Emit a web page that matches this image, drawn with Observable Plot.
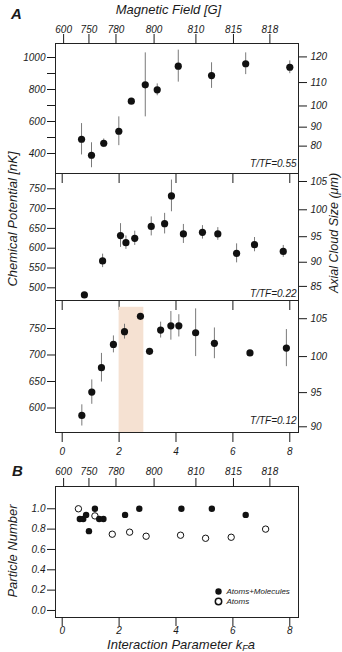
<!DOCTYPE html>
<html>
<head>
<meta charset="utf-8">
<script src="https://cdn.jsdelivr.net/npm/d3@7"></script>
<script src="https://cdn.jsdelivr.net/npm/@observablehq/plot@0.6"></script>
<style>
  body { margin: 0; background: #fff; }
  #chart { position: relative; width: 342px; height: 652px; overflow: hidden; background: #fff;
           font-family: "Liberation Sans", Arial, sans-serif; font-style: italic; color: #1a1a1a; }
  #xtitle { position: absolute; left: 181px; top: 639px; transform: translateX(-50%);
            font-size: 13px; line-height: 12px; white-space: nowrap; }
  #xtitle sub { font-size: 9px; vertical-align: -2px; line-height: 0; }
</style>
</head>
<body>
<div id="chart"><span id="xtitle">Interaction Parameter k<sub>F</sub>a</span></div>
<script>
// ---------- data ----------
// Panel A, T/TF = 0.55
const kfa55 = [0.68, 1.03, 1.46, 1.99, 2.43, 2.92, 3.34, 4.08, 5.25, 6.45, 8.00];
const mu55  = [489, 389, 464, 539, 727, 829, 798, 946, 887, 961, 939];
const err55 = [98, 78, 27, 90, 0, 200, 37, 100, 80, 68, 40];
// Panel A, T/TF = 0.22
const kfa22 = [0.78, 1.42, 2.05, 2.24, 2.55, 3.13, 3.60, 3.84, 4.26, 4.93, 5.47, 6.13, 6.76, 7.77];
const mu22  = [482, 568, 632, 614, 625, 655, 662, 732, 636, 640, 636, 587, 609, 592];
const err22 = [0, 17, 30, 17, 18, 24, 26, 40, 24, 17, 16, 24, 18, 15];
// Panel A, T/TF = 0.12
const kfa12 = [0.69, 1.04, 1.38, 1.80, 2.19, 2.75, 3.07, 3.46, 3.82, 4.10, 4.69, 5.35, 6.60, 7.88];
const mu12  = [586, 630, 676, 720, 744, 773, 707, 747, 755, 755, 742, 722, 704, 713];
const err12 = [20, 23, 27, 16, 14, 0, 0, 15, 27, 21, 45, 29, 0, 35];
// shaded interval in the T/TF = 0.12 panel
const bandK = [2.0, 2.87];
const bandMuTop = 790;
// Panel B
const kfaMol = [0.62, 0.74, 0.84, 0.94, 1.15, 1.30, 1.45, 2.21, 2.71, 4.19, 5.26, 6.45];
const nMol   = [0.90, 0.90, 0.94, 0.78, 1.00, 0.90, 0.90, 0.94, 1.00, 1.00, 1.00, 0.94];
const kfaAt  = [0.57, 1.15, 1.76, 2.37, 2.95, 4.16, 5.04, 5.94, 7.15];
const nAt    = [1.00, 0.93, 0.75, 0.77, 0.73, 0.74, 0.71, 0.72, 0.80];
// ticks
const kTicks = [0, 2, 4, 6, 8];
const fieldTicks = [600, 750, 780, 800, 810, 815, 818];      // magnetic field labels [G]
const fieldAtK   = [0.05, 0.94, 1.89, 3.23, 4.70, 6.02, 7.30]; // where they sit on the k_F a axis
const mu55Ticks = [400, 500, 600, 700, 800, 900, 1000];
const mu22Ticks = [500, 550, 600, 650, 700, 750];
const mu12Ticks = [600, 650, 700, 750];
const size55Ticks = [80, 90, 100, 110, 120];
const size22Ticks = [85, 90, 95, 100, 105];
const size12Ticks = [90, 95, 100, 105];
const nTicks = [0, 0.2, 0.4, 0.6, 0.8, 1.0];
const muPerSize2 = 0.0697; // chemical potential [nK] = const * (axial size [um])^2

// ---------- drawing ----------
const chart = document.getElementById("chart");
const FONT = '"Liberation Sans", Arial, sans-serif';
const W = 342, ML = 55, MR = 44;
const xScale = {domain: [-0.2355, 8.306]};
const baseStyle = {background: "transparent", overflow: "visible", fontFamily: FONT,
                   fontStyle: "italic", fontSize: "10px", color: "#1a1a1a"};
const fieldLabel = new Map(fieldAtK.map((p, i) => [p, String(fieldTicks[i])]));

function rows(k, v, e) { return k.map((d, i) => ({k: d, v: v[i], e: e ? e[i] : 0})); }
function mount(svg, top) {
  svg.style.position = "absolute"; svg.style.left = "0px"; svg.style.top = top + "px";
  chart.appendChild(svg);
}
const sizeFmt = d => String(Math.round(Math.sqrt(d / muPerSize2)));
function errMarks(data, r) {
  return [
    Plot.ruleX(data.filter(d => d.e > 0), {x: "k", y1: d => d.v - d.e, y2: d => d.v + d.e, stroke: "#7a7a7a", strokeWidth: 1}),
    Plot.dot(data, {x: "k", y: "v", r, fill: "#111"})
  ];
}
const leftAxis = (ticks, fmt) => Plot.axisY({anchor: "left", ticks, tickFormat: fmt, tickSize: 8, tickPadding: 2, label: null});
const rightAxis = (sizes) => Plot.axisY({anchor: "right", ticks: sizes.map(R => muPerSize2 * R * R), tickFormat: sizeFmt, tickSize: 8, tickPadding: 4, label: null});
const innerTicks = () => Plot.axisX({anchor: "bottom", ticks: kTicks, tickSize: 10, tickFormat: () => "", label: null});
const ttfLabel = (t, dy) => Plot.text([t], {text: d => d, frameAnchor: "bottom-right", dx: -2, dy, fontSize: 10});

// Panel A – T/TF = 0.55
mount(Plot.plot({
  width: W, height: 173, marginTop: 43, marginBottom: 0, marginLeft: ML, marginRight: MR,
  x: xScale, y: {domain: [275, 1087.5]}, style: baseStyle,
  marks: [
    Plot.frame({stroke: "#222"}),
    Plot.axisX({anchor: "top", ticks: fieldAtK, tickFormat: d => fieldLabel.get(d), tickSize: 10, tickPadding: 1, label: null}),
    innerTicks(),
    leftAxis(mu55Ticks, d => d % 200 === 0 ? String(d) : ""),
    rightAxis(size55Ticks),
    ...errMarks(rows(kfa55, mu55, err55), 3.6),
    ttfLabel("T/TF=0.55", -7),
    Plot.text(["A"], {text: d => d, frameAnchor: "top-left", dx: -39, dy: -29.5, textAnchor: "middle", lineAnchor: "middle", fontWeight: "bold", fontSize: 15}),
    Plot.text(["Magnetic Field [G]"], {text: d => d, frameAnchor: "top", dx: -8.5, dy: -34, lineAnchor: "middle", fontSize: 13})
  ]
}), 0);

// Panel A – T/TF = 0.22
mount(Plot.plot({
  width: W, height: 127, marginTop: 0, marginBottom: 0, marginLeft: ML, marginRight: MR,
  x: xScale, y: {domain: [468, 788.6]}, style: baseStyle,
  marks: [
    Plot.frame({stroke: "#222"}),
    innerTicks(),
    leftAxis(mu22Ticks, d => String(d)),
    rightAxis(size22Ticks),
    ...errMarks(rows(kfa22, mu22, err22), 3.6),
    ttfLabel("T/TF=0.22", -4),
    Plot.text(["Chemical Potential [nK]"], {text: d => d, frameAnchor: "left", dx: -43, dy: -18, rotate: -90, textAnchor: "middle", lineAnchor: "middle", fontSize: 13}),
    Plot.text(["Axial Cloud Size (μm)"], {text: d => d, frameAnchor: "right", dx: 35, dy: -4, rotate: -90, textAnchor: "middle", lineAnchor: "middle", fontSize: 12.5})
  ]
}), 173);

// Panel A – T/TF = 0.12
mount(Plot.plot({
  width: W, height: 160, marginTop: 0, marginBottom: 28, marginLeft: ML, marginRight: MR,
  x: xScale, y: {domain: [553.8, 802.8]}, style: baseStyle,
  marks: [
    Plot.rect([bandK], {x1: d => d[0], x2: d => d[1], y1: 553.8, y2: bandMuTop, fill: "#f5e1d2"}),
    Plot.frame({stroke: "#222"}),
    Plot.axisX({anchor: "bottom", ticks: kTicks, tickSize: 10, tickPadding: 5, tickFormat: d => String(d), label: null}),
    leftAxis(mu12Ticks, d => String(d)),
    rightAxis(size12Ticks),
    ...errMarks(rows(kfa12, mu12, err12), 3.6),
    ttfLabel("T/TF=0.12", -9)
  ]
}), 300);

// Panel B
mount(Plot.plot({
  width: W, height: 192, marginTop: 26, marginBottom: 35, marginLeft: ML, marginRight: MR,
  x: xScale, y: {domain: [-0.069, 1.219]}, style: baseStyle,
  marks: [
    Plot.frame({stroke: "#222"}),
    Plot.axisX({anchor: "top", ticks: fieldAtK, tickFormat: d => fieldLabel.get(d), tickSize: 9, tickPadding: 3, label: null}),
    Plot.axisX({anchor: "bottom", ticks: kTicks, tickSize: 9, tickPadding: 0, tickFormat: d => String(d), label: null}),
    Plot.axisY({anchor: "left", ticks: nTicks, tickFormat: d3.format(".1f"), tickSize: 8, tickPadding: 2, label: null}),
    Plot.dot(rows(kfaAt, nAt), {x: "k", y: "v", r: 3.2, fill: "white", stroke: "#111", strokeWidth: 1}),
    Plot.dot(rows(kfaMol, nMol), {x: "k", y: "v", r: 3.2, fill: "#111"}),
    Plot.dot([0], {frameAnchor: "bottom-right", dx: -80, dy: -26, r: 3.2, fill: "#111"}),
    Plot.dot([0], {frameAnchor: "bottom-right", dx: -80, dy: -16, r: 3.2, fill: "white", stroke: "#111"}),
    Plot.text(["Atoms+Molecules"], {text: d => d, frameAnchor: "bottom-right", dx: -72, dy: -26, textAnchor: "start", lineAnchor: "middle", fontSize: 8}),
    Plot.text(["Atoms"], {text: d => d, frameAnchor: "bottom-right", dx: -72, dy: -16, textAnchor: "start", lineAnchor: "middle", fontSize: 8}),
    Plot.text(["Particle Number"], {text: d => d, frameAnchor: "left", dx: -43, dy: -1, rotate: -90, textAnchor: "middle", lineAnchor: "middle", fontSize: 13}),
    Plot.text(["B"], {text: d => d, frameAnchor: "top-left", dx: -38, dy: -15.5, textAnchor: "middle", lineAnchor: "middle", fontWeight: "bold", fontSize: 15})
  ]
}), 460);
</script>
</body>
</html>
